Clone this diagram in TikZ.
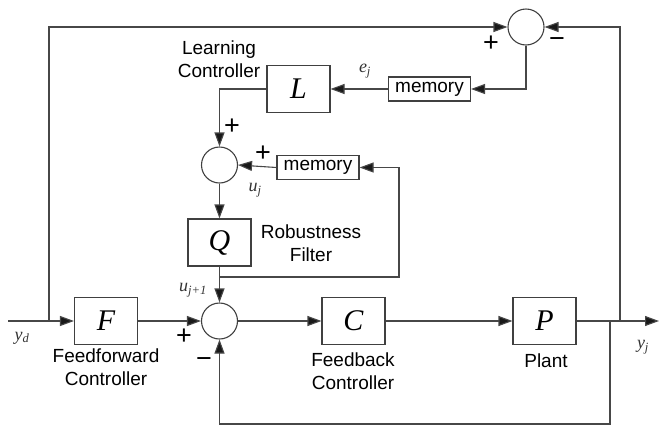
\documentclass[tikz,border=0pt]{standalone}
\usepackage{fontspec}
\setmainfont{Liberation Sans}
\newfontfamily\tmsfont{Liberation Serif}
\usetikzlibrary{arrows.meta}
\tikzset{
  lin/.style={draw=black!72, line width=1.1pt},
  arr/.style={lin, -{Triangle[length=14pt,width=10pt,fill=black!90]}},
  blk/.style={draw=black!75, line width=1.1pt, minimum width=63pt, minimum height=47pt, inner sep=0pt, font=\fontsize{30}{32}\selectfont\tmsfont\itshape},
  memb/.style={draw=black!75, line width=1.1pt, minimum width=82pt, minimum height=24pt, inner sep=0pt, font=\fontsize{19}{21}\selectfont},
  sumc/.style={draw=black!75, line width=1.1pt, circle, minimum size=36pt, inner sep=0pt},
  lbl/.style={font=\fontsize{19}{23}\selectfont, align=center, inner sep=0pt},
  sgn/.style={font=\fontsize{27}{27}\selectfont, inner sep=0pt},
  mlbl/.style={font=\fontsize{18}{18}\selectfont\tmsfont\itshape, text=black!80, inner sep=0pt}
}
\begin{document}
\begin{tikzpicture}[x=1pt,y=-1pt]
\useasboundingbox (0,0) rectangle (659,429);
% blocks
\node[blk] (L) at (298.5,89) {L};
\node[blk] (Q) at (219.5,242.5) {Q};
\node[blk] (F) at (106,321) {F};
\node[blk] (C) at (353.5,321) {C};
\node[blk] (P) at (544.5,321) {P};
\node[memb] (mem1) at (429.5,89) {memory};
\node[memb] (mem2) at (318,167.5) {memory};
\node[sumc] (sum1) at (219.5,321) {};
\node[sumc] (sum2) at (219.5,165) {};
\node[sumc] (sum3) at (526,27) {};
% coordinates
\coordinate (in) at (8,321);
\coordinate (j1) at (49,321);
\coordinate (out) at (659,321);
\coordinate (j2) at (620,321);
\coordinate (j3) at (610,321);
\coordinate (bot) at (610,424);
\coordinate (j4) at (219.5,277);
\coordinate (rt) at (399,277);
% connectors
\draw[arr] (in) -- (F.west);
\draw[arr] (j1) |- (sum3.west);
\draw[arr] (F.east) -- (sum1.west);
\draw[arr] (sum1.east) -- (C.west);
\draw[arr] (C.east) -- (P.west);
\draw[arr] (P.east) -- (out);
\draw[arr] (j2) |- (sum3.east);
\draw[arr] (j3) -- (bot) -| (sum1.south);
\draw[arr] (sum3.south) |- (mem1.east);
\draw[arr] (mem1.west) -- (L.east);
\draw[arr] (L.west) -| (sum2.north);
\draw[arr] (mem2.west) -- (sum2.east);
\draw[arr] (sum2.south) -- (Q.north);
\draw[arr] (Q.south) -- (sum1.north);
\draw[arr] (j4) -- (rt) |- (mem2.east);
% labels
\node[lbl] (tLC) at (219,59.5) {Learning\\Controller};
\node[lbl] (tRF) at (311,243.5) {Robustness\\Filter};
\node[lbl] (tFF) at (106,367) {Feedforward\\Controller};
\node[lbl] (tFB) at (353,371) {Feedback\\Controller};
\node[lbl] (tP) at (546,361) {Plant};
% signs
\node[sgn] (s1) at (491,44) {+};
\node[sgn] (s2) at (557,43) {−};
\node[sgn] (s3) at (232,127) {+};
\node[sgn] (s4) at (263,154) {+};
\node[sgn] (s5) at (184,337) {+};
\node[sgn] (s6) at (204,363) {−};
% math labels
\node[mlbl] (lej) at (365,71) {e\textsubscript{j}};
\node[mlbl] (luj) at (255,190) {u\textsubscript{j}};
\node[mlbl] (luj1) at (193,290) {u\textsubscript{j+1}};
\node[mlbl] (lyd) at (22,338) {y\textsubscript{d}};
\node[mlbl] (lyj) at (643,347) {y\textsubscript{j}};
\end{tikzpicture}
\end{document}
